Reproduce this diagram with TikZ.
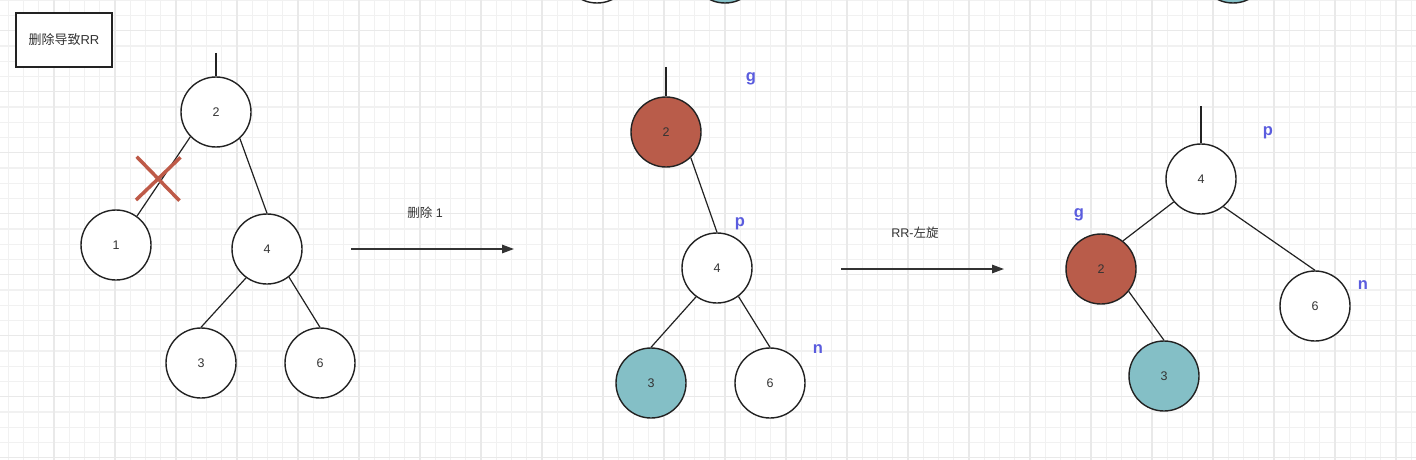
\documentclass[tikz,border=0pt]{standalone}
\usepackage{fontspec}
\setmainfont{Liberation Sans}
\newfontfamily\cjk{Noto Sans CJK SC}
\usetikzlibrary{arrows.meta}
\definecolor{gmaj}{HTML}{E9E9E9}
\definecolor{gmin}{HTML}{F1F1F1}
\definecolor{redf}{HTML}{B95C4A}
\definecolor{tealf}{HTML}{84BFC6}
\definecolor{lbl}{HTML}{5A5CDE}
\definecolor{ink}{HTML}{222222}
\definecolor{txt}{HTML}{333333}
\definecolor{xred}{HTML}{BE5A48}
\begin{document}
\begin{tikzpicture}[x=1pt,y=-1pt,
 tnode/.style={circle,draw=ink,line width=1.4pt,minimum size=70pt,inner sep=0pt,fill=white,text=txt,font=\fontsize{12.5}{14}\selectfont},
 rednode/.style={tnode,fill=redf},
 tealnode/.style={tnode,fill=tealf},
 edge/.style={draw=ink,line width=1.2pt},
 tag/.style={text=lbl,font=\fontsize{16.5}{18}\selectfont\bfseries},
 note/.style={text=txt,font=\fontsize{12.5}{14}\selectfont},
 flow/.style={draw=txt,line width=1.4pt,-{Triangle[length=12pt,width=8.5pt]}},
 gridmin/.style={draw=gmin,line width=1.2pt},
 gridmaj/.style={draw=gmaj,line width=1.4pt},
 cross/.style={draw=xred,line width=3.5pt},
 titlebox/.style={draw=ink,line width=1.4pt,minimum width=96pt,minimum height=54pt,inner sep=0pt,fill=white,text=txt,font=\fontsize{13}{15}\selectfont}
 ]
\useasboundingbox (0,0) rectangle (1416,460);
\clip (0,0) rectangle (1416,460);
\fill[white] (0,0) rectangle (1416,460);
% grid
\foreach \i in {0,...,92} \draw[gridmin] ({8.25+15.25*\i},0) -- ++(0,460);
\foreach \i in {0,...,30} \draw[gridmin] (0,{0.2+15.25*\i}) -- ++(1416,0);
\foreach \i in {0,...,22} \draw[gridmaj] ({54+61*\i},0) -- ++(0,460);
\foreach \i in {0,...,7} \draw[gridmaj] (0,{30.7+61*\i}) -- ++(1416,0);

% title box
\node[titlebox] (title) at (64,40) {{\cjk 删除导致}RR};

% ---------- tree 1 ----------
\coordinate (s1) at (216,53);
\node[tnode] (a2) at (216,112) {2};
\node[tnode] (a1) at (116,245) {1};
\node[tnode] (a4) at (267,249) {4};
\node[tnode] (a3) at (201,363) {3};
\node[tnode] (a6) at (320,363) {6};
\draw[edge] (s1) -- (a2.north);
\draw[edge] (a2.224) -- (a1.54);
\draw[edge] (a2.312) -- (a4.north);
\draw[edge] (a4.234) -- (a3.north);
\draw[edge] (a4.308) -- (a6.north);
\draw[cross] (136.7,156.7) -- (179.5,200.7);
\draw[cross] (136,200) -- (180.5,157.3);

% arrow 1
\coordinate (f1s) at (351,249);
\coordinate (f1e) at (514,249);
\draw[flow] (f1s) -- (f1e);
\node[note] (f1t) at (425,213) {{\cjk 删除} 1};

% ---------- tree 2 ----------
\node[tnode] (topw) at (597,-32) {};
\node[tealnode] (topt) at (725,-32) {};
\coordinate (s2) at (666,67);
\node[rednode] (b2) at (666,132) {2};
\node[tnode] (b4) at (717,268) {4};
\node[tealnode] (b3) at (651,383) {3};
\node[tnode] (b6) at (770,383) {6};
\draw[edge] (s2) -- (b2.north);
\draw[edge] (b2.314) -- (b4.north);
\draw[edge] (b4.234) -- (b3.north);
\draw[edge] (b4.307) -- (b6.north);
\node[tag] (bg) at (751,79) {g};
\node[tag] (bp) at (740,224) {p};
\node[tag] (bn) at (818,349) {n};

% arrow 2
\coordinate (f2s) at (841,269);
\coordinate (f2e) at (1004,269);
\draw[flow] (f2s) -- (f2e);
\node[note] (f2t) at (915,233) {RR-{\cjk 左旋}};

% ---------- tree 3 ----------
\node[tealnode] (topt2) at (1233,-32) {};
\coordinate (s3) at (1201,106);
\node[tnode] (c4) at (1201,179) {4};
\node[rednode] (c2) at (1101,269) {2};
\node[tnode] (c6) at (1315,306) {6};
\node[tealnode] (c3) at (1164,376) {3};
\draw[edge] (s3) -- (c4.north);
\draw[edge] (c4.220) -- (c2.52);
\draw[edge] (c4.309) -- (c6.north);
\draw[edge] (c2.321) -- (c3.north);
\node[tag] (cp) at (1268,133) {p};
\node[tag] (cg) at (1079,215) {g};
\node[tag] (cn) at (1363,285) {n};
\end{tikzpicture}
\end{document}
